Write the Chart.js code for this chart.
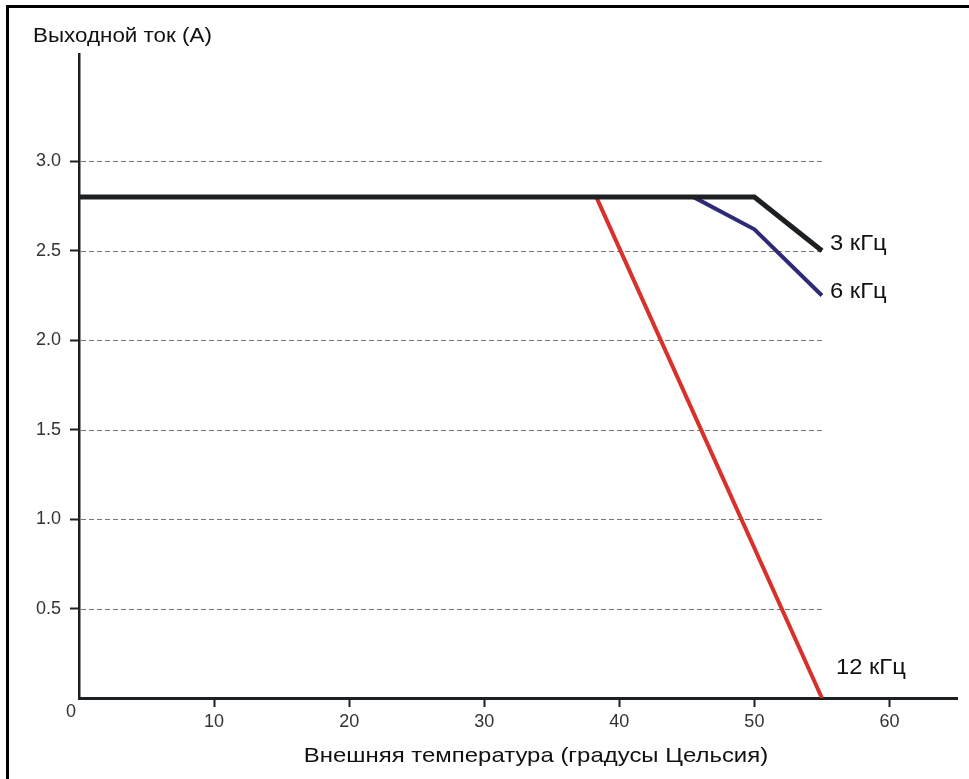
<!DOCTYPE html>
<html lang="ru">
<head>
<meta charset="utf-8">
<title>Выходной ток в зависимости от температуры</title>
<script src="https://cdn.jsdelivr.net/npm/chart.js@4.4.1/dist/chart.umd.min.js"></script>
<style>
  html, body { margin: 0; padding: 0; background: #fff; }
  #wrap { position: relative; width: 969px; height: 779px; overflow: hidden; }
  #frame { position: absolute; left: 6px; top: 5px; right: 0; bottom: 0;
           border-top: 3px solid #000; border-left: 3px solid #000; }
  #chart { position: absolute; left: 0; top: 0; }
</style>
</head>
<body>
<div id="wrap">
  <div id="frame"></div>
  <canvas id="chart" width="969" height="779"></canvas>
</div>
<script>
// Derating curves: output current vs ambient temperature for each PWM frequency
const seriesNames = ['3 кГц', '6 кГц', '12 кГц'];
const temps3  = [0, 50, 55];
const amps3   = [2.8, 2.8, 2.5];
const temps6  = [45.5, 50, 55];
const amps6   = [2.8, 2.62, 2.25];
const temps12 = [38.3, 55];
const amps12  = [2.8, 0];

const xTickValues = [10, 20, 30, 40, 50, 60];
const xTickLabels = ['10', '20', '30', '40', '50', '60'];
const yTickValues = [0.5, 1.0, 1.5, 2.0, 2.5, 3.0];
const yTickLabels = ['0.5', '1.0', '1.5', '2.0', '2.5', '3.0'];
const gridEndTemp = 55;

const yTitle = 'Выходной ток (А)';
const xTitle = 'Внешняя температура (градусы Цельсия)';
const originLabel = '0';

const FONT = '"Liberation Sans", Arial, sans-serif';

function toPoints(xs, ys) {
  return xs.map((x, i) => ({ x: x, y: ys[i] }));
}

// pixel offsets of each end-of-curve label from the curve's last point
const labelOffsets = [
  { dx: 8, dy: -7 },
  { dx: 8, dy: -4 },
  { dx: 14, dy: -30 }
];

// draws text slightly widened, the way the captions are set
function wideText(ctx, text, x, y, stretch, align) {
  ctx.save();
  ctx.translate(x, y);
  ctx.scale(stretch, 1);
  ctx.textAlign = align;
  ctx.fillText(text, 0, 0);
  ctx.restore();
}

const decorations = {
  id: 'decorations',
  beforeDatasetsDraw(chart) {
    const { ctx, scales: { x, y } } = chart;
    ctx.save();
    ctx.strokeStyle = '#777';
    ctx.lineWidth = 1;
    ctx.setLineDash([5, 3]);
    const x0 = x.getPixelForValue(0);
    const x1 = x.getPixelForValue(gridEndTemp);
    yTickValues.forEach(v => {
      const py = Math.round(y.getPixelForValue(v)) + 0.5;
      ctx.beginPath();
      ctx.moveTo(x0 + 2, py);
      ctx.lineTo(x1, py);
      ctx.stroke();
    });
    ctx.restore();
  },
  afterDraw(chart) {
    const { ctx, chartArea, scales: { x, y } } = chart;
    ctx.save();
    ctx.fillStyle = '#111';
    ctx.textBaseline = 'middle';
    // end-of-curve labels
    ctx.font = '22px ' + FONT;
    chart.data.datasets.forEach((ds, i) => {
      const last = ds.data[ds.data.length - 1];
      const px = x.getPixelForValue(last.x) + labelOffsets[i].dx;
      const py = y.getPixelForValue(last.y) + labelOffsets[i].dy;
      wideText(ctx, seriesNames[i], px, py, 1.08, 'left');
    });
    // vertical axis caption, written horizontally above the axis
    ctx.font = '20px ' + FONT;
    wideText(ctx, yTitle, 33, 36, 1.12, 'left');
    // horizontal axis caption
    ctx.font = '21px ' + FONT;
    wideText(ctx, xTitle, (chartArea.left + chartArea.right) / 2 + 18, 756, 1.14, 'center');
    // shared origin label
    ctx.fillStyle = '#333';
    ctx.font = '18px ' + FONT;
    ctx.textAlign = 'center';
    ctx.fillText(originLabel, x.getPixelForValue(0) - 8, y.getPixelForValue(0) + 14);
    ctx.restore();
  }
};

new Chart(document.getElementById('chart'), {
  type: 'line',
  data: {
    datasets: [
      { label: seriesNames[0], data: toPoints(temps3, amps3), borderColor: '#1d2023', borderWidth: 5, order: 0 },
      { label: seriesNames[1], data: toPoints(temps6, amps6), borderColor: '#2e2a78', borderWidth: 4, order: 1 },
      { label: seriesNames[2], data: toPoints(temps12, amps12), borderColor: '#d8302b', borderWidth: 4, order: 2 }
    ]
  },
  options: {
    responsive: false,
    animation: false,
    devicePixelRatio: 1,
    layout: { padding: { left: 0, right: 12, top: 54, bottom: 0 } },
    elements: {
      point: { radius: 0, hoverRadius: 0 },
      line: { tension: 0, borderCapStyle: 'butt', borderJoinStyle: 'miter' }
    },
    plugins: { legend: { display: false }, tooltip: { enabled: false } },
    scales: {
      x: {
        type: 'linear',
        min: 0,
        max: 65,
        afterFit(scale) { scale.height = 81; },
        afterBuildTicks(scale) { scale.ticks = xTickValues.map(v => ({ value: v })); },
        border: { display: true, color: '#1d2023', width: 3 },
        grid: { drawOnChartArea: false, drawTicks: true, tickLength: 9, tickColor: '#1d2023', tickWidth: 2 },
        ticks: {
          padding: 4,
          color: '#333',
          font: { family: FONT, size: 18 },
          maxRotation: 0,
          autoSkip: false,
          callback: (v) => xTickLabels[xTickValues.indexOf(v)]
        }
      },
      y: {
        type: 'linear',
        min: 0,
        max: 3.6,
        afterFit(scale) { scale.width = 79; },
        afterBuildTicks(scale) { scale.ticks = yTickValues.map(v => ({ value: v })); },
        border: { display: true, color: '#1d2023', width: 2.5 },
        grid: { drawOnChartArea: false, drawTicks: true, tickLength: 9, tickColor: '#1d2023', tickWidth: 2 },
        ticks: {
          padding: 9,
          color: '#333',
          font: { family: FONT, size: 18 },
          autoSkip: false,
          callback: (v) => yTickLabels[yTickValues.indexOf(v)]
        }
      }
    }
  },
  plugins: [decorations]
});
</script>
</body>
</html>
